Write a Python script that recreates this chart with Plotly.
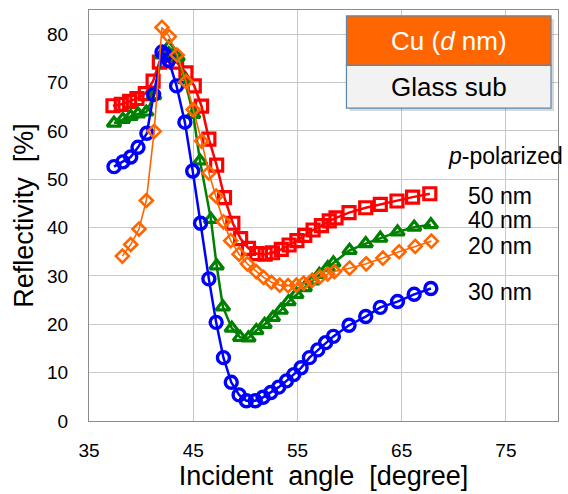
import plotly.graph_objects as go

# ---- data ----
angle_30nm = [37.4, 38.25, 39.0, 39.7, 40.55, 41.2, 42.0, 42.3, 42.65, 43.4, 44.2, 44.95,
              45.7, 46.5, 47.2, 47.9, 48.65, 49.4, 50.1, 50.95, 51.7, 52.45, 53.2, 53.95,
              54.65, 55.35, 56.15, 56.95, 57.7, 58.45, 59.95, 61.55, 62.95, 64.6, 66.2, 67.8]
refl_30nm = [52.6, 53.6, 54.6, 56.6, 59.5, 67.5, 76.3, 75.7, 74.6, 69.3, 61.8, 51.7,
             40.9, 29.4, 20.4, 13.1, 8.0, 5.4, 4.2, 4.2, 4.9, 5.9, 7.0, 8.3,
             9.6, 11.0, 13.1, 14.7, 16.2, 17.5, 19.8, 21.6, 23.5, 24.7, 26.2, 27.4]

angle_50nm = [37.3, 38.1, 38.9, 39.6, 40.4, 41.15, 41.75, 42.45, 43.4, 44.3, 45.1, 45.8,
              46.5, 47.25, 48.0, 48.8, 49.55, 50.3, 51.1, 51.9, 52.6, 53.45, 54.2, 54.95,
              55.7, 56.5, 57.3, 58.05, 58.7, 59.95, 61.55, 62.95, 64.55, 66.05, 67.7]
refl_50nm = [65.2, 65.5, 66.1, 66.7, 67.7, 70.3, 74.2, 74.4, 74.2, 72.0, 69.3, 65.1,
             58.3, 52.9, 46.2, 40.9, 37.7, 35.7, 34.6, 34.5, 34.8, 35.5, 36.4, 37.3,
             38.4, 39.5, 40.4, 41.4, 42.0, 43.1, 44.1, 44.8, 45.5, 46.3, 47.0]

angle_40nm = [37.4, 38.25, 39.0, 39.7, 40.5, 41.25, 42.0, 42.65, 43.5, 44.2, 45.0, 45.65,
              46.7, 47.25, 47.85, 48.7, 49.5, 50.3, 51.05, 51.85, 52.65, 53.4, 54.15, 54.9,
              55.7, 56.45, 57.1, 57.9, 58.45, 60.0, 61.55, 62.95, 64.6, 66.2, 67.8]
refl_40nm = [61.6, 62.4, 63.0, 63.5, 63.9, 67.3, 75.7, 77.3, 75.3, 70.6, 63.4, 53.8,
             41.7, 32.1, 23.6, 19.2, 17.3, 17.2, 18.7, 20.0, 21.4, 22.9, 24.7, 26.2,
             27.6, 29.0, 30.3, 31.7, 32.7, 35.3, 36.7, 37.8, 39.1, 40.1, 40.6]

angle_20nm = [38.2, 39.0, 39.8, 40.5, 41.25, 42.0, 42.7, 43.45, 44.3, 45.0, 45.8, 46.5,
              47.2, 47.9, 48.6, 49.4, 50.2, 51.05, 51.75, 52.5, 53.3, 54.1, 54.9, 55.6,
              56.4, 57.15, 57.9, 58.55, 60.0, 61.6, 63.2, 64.75, 66.3, 67.85]
refl_20nm = [34.1, 36.5, 39.7, 45.6, 59.9, 81.4, 79.5, 75.7, 70.2, 64.4, 57.9, 51.3,
             46.5, 41.2, 37.3, 34.5, 32.5, 30.9, 29.7, 28.7, 28.1, 28.0, 28.1, 28.5,
             29.1, 29.8, 30.4, 30.9, 31.6, 32.5, 33.7, 35.0, 36.1, 37.2]

x_ticks = [35, 45, 55, 65, 75]
y_ticks = [0, 10, 20, 30, 40, 50, 60, 70, 80]
series_labels = ["50 nm", "40 nm", "20 nm", "30 nm"]

FONT = "Liberation Sans, Arial, sans-serif"

fig = go.Figure()

fig.add_trace(go.Scatter(x=angle_50nm, y=refl_50nm, mode="lines+markers", name="50 nm",
                         line=dict(color="#FF0000", width=2.5),
                         marker=dict(symbol="square-open", size=12, color="#FF0000",
                                     line=dict(width=3.2, color="#FF0000"))))
fig.add_trace(go.Scatter(x=angle_40nm, y=refl_40nm, mode="lines+markers", name="40 nm",
                         line=dict(color="#008000", width=2.5),
                         marker=dict(symbol="triangle-up-open", size=12, color="#008000",
                                     line=dict(width=3.2, color="#008000"))))
fig.add_trace(go.Scatter(x=angle_30nm, y=refl_30nm, mode="lines+markers", name="30 nm",
                         line=dict(color="#0000FF", width=2.5),
                         marker=dict(symbol="circle-open", size=12, color="#0000FF",
                                     line=dict(width=3.4, color="#0000FF"))))
fig.add_trace(go.Scatter(x=angle_20nm, y=refl_20nm, mode="lines+markers", name="20 nm",
                         line=dict(color="#FF6600", width=1.6),
                         marker=dict(symbol="diamond-open", size=10, color="#FF6600",
                                     line=dict(width=2.6, color="#FF6600"))))

# plot-area pixel geometry helpers (plot area: x 89..559, y 10..425)
def px(xp):
    return (xp - 89) / 470.0

def py(yp):
    return (425 - yp) / 415.0

shapes = [
    # shadow
    dict(type="rect", xref="paper", yref="paper", x0=px(350), x1=px(555), y0=py(112), y1=py(19),
         fillcolor="rgba(0,0,0,0.15)", line=dict(width=0), layer="above"),
    dict(type="rect", xref="paper", yref="paper", x0=px(347), x1=px(552), y0=py(66), y1=py(16),
         fillcolor="#FF6600", line=dict(color="#5A86B0", width=1.2), layer="above"),
    dict(type="rect", xref="paper", yref="paper", x0=px(347), x1=px(552), y0=py(109), y1=py(66),
         fillcolor="#F2F2F2", line=dict(color="#5A86B0", width=1.2), layer="above"),
]

annotations = [
    dict(text="Cu (<i>d</i> nm)", x=px(449.5), y=py(41), xref="paper", yref="paper",
         showarrow=False, font=dict(family=FONT, size=26, color="white"),
         xanchor="center", yanchor="middle"),
    dict(text="Glass sub", x=px(449.5), y=py(87.5), xref="paper", yref="paper",
         showarrow=False, font=dict(family=FONT, size=26, color="black"),
         xanchor="center", yanchor="middle"),
    dict(text="<i>p</i>-polarized", x=px(447), y=py(157), xref="paper", yref="paper",
         showarrow=False, font=dict(family=FONT, size=23, color="black"),
         xanchor="left", yanchor="middle"),
]
label_y = [197.5, 221.7, 248.3, 294.7]
for lab, yy in zip(series_labels, label_y):
    annotations.append(dict(text=lab, x=px(467), y=py(yy), xref="paper", yref="paper",
                            showarrow=False, font=dict(family=FONT, size=23, color="black"),
                            xanchor="left", yanchor="middle"))

fig.update_layout(
    width=568, height=494,
    margin=dict(l=89, r=9, t=10, b=69),
    paper_bgcolor="white", plot_bgcolor="white",
    showlegend=False,
    font=dict(family=FONT, color="black"),
    shapes=shapes,
    annotations=annotations,
    xaxis=dict(range=[35, 80], tickvals=x_ticks, ticktext=[str(v) for v in x_ticks],
               showgrid=True, gridcolor="#C8C8C8", gridwidth=1,
               showline=True, linecolor="#8C8C8C", linewidth=1.2, mirror=True,
               zeroline=False, ticks="", ticklabelstandoff=12,
               tickfont=dict(family=FONT, size=19, color="black"),
               title=dict(text="Incident  angle  [degree]", standoff=5,
                          font=dict(family=FONT, size=27, color="black"))),
    yaxis=dict(range=[0, 85], tickvals=y_ticks, ticktext=[str(v) for v in y_ticks],
               showgrid=True, gridcolor="#C8C8C8", gridwidth=1,
               showline=True, linecolor="#8C8C8C", linewidth=1.2, mirror=True,
               zeroline=False, ticks="", ticklabelstandoff=16,
               tickfont=dict(family=FONT, size=19, color="black"),
               title=dict(text="Reflectivity  [%]", standoff=5,
                          font=dict(family=FONT, size=27, color="black"))),
)

fig.write_html("out.html")
